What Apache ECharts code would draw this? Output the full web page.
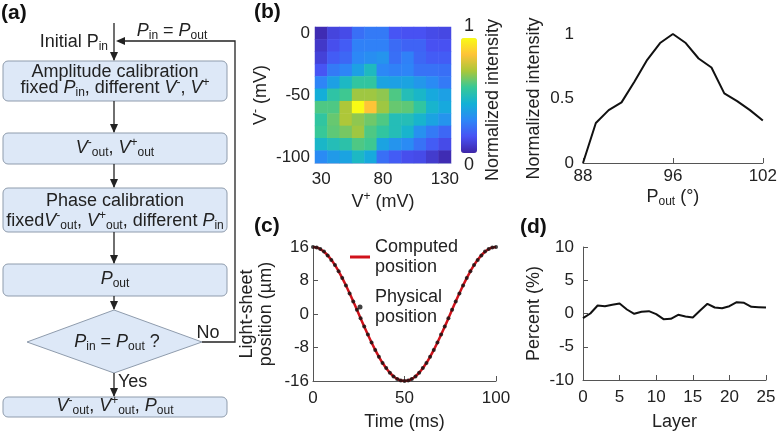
<!DOCTYPE html>
<html><head><meta charset="utf-8">
<script src="https://cdn.jsdelivr.net/npm/echarts@6/dist/echarts.min.js"></script>
<style>html,body{margin:0;padding:0;background:#fff}#c{width:780px;height:434px}</style>
</head><body><div id="c"></div>
<script>
const FONT = '"Liberation Sans", Arial, Helvetica, sans-serif';

// ---- (b) heatmap: columns V+ (mV), rows V- (mV) ----
const vPlus = ['30','40','50','60','70','80','90','100','110','120','130'];
const vMinus = ['0','-10','-20','-30','-40','-50','-60','-70','-80','-90','-100'];
const intensity = [
  [0.02,0.10,0.12,0.22,0.25,0.25,0.15,0.14,0.14,0.12,0.11],
  [0.06,0.13,0.17,0.27,0.27,0.27,0.21,0.19,0.19,0.14,0.14],
  [0.09,0.17,0.20,0.29,0.31,0.33,0.22,0.27,0.20,0.17,0.17],
  [0.15,0.25,0.28,0.37,0.48,0.29,0.27,0.28,0.23,0.23,0.22],
  [0.28,0.37,0.47,0.55,0.55,0.38,0.37,0.38,0.34,0.30,0.25],
  [0.42,0.54,0.58,0.70,0.70,0.68,0.60,0.50,0.46,0.40,0.37],
  [0.60,0.60,0.72,1.00,0.86,0.70,0.63,0.62,0.55,0.45,0.40],
  [0.55,0.63,0.72,0.68,0.64,0.60,0.50,0.50,0.45,0.38,0.33],
  [0.57,0.62,0.65,0.70,0.60,0.55,0.50,0.45,0.32,0.25,0.20],
  [0.46,0.50,0.53,0.60,0.58,0.38,0.33,0.30,0.23,0.17,0.12],
  [0.30,0.35,0.38,0.47,0.40,0.22,0.17,0.13,0.12,0.07,0.02]
];
const colorbarTicks = ['1','0'];

// ---- (b) right: normalized intensity vs P_out ----
const pOutLabels = ['88','','','','','','','96','','','','','','','102'];
const normIntensity = [0,0.31,0.41,0.47,0.63,0.80,0.93,1.0,0.93,0.81,0.74,0.54,0.48,0.41,0.33];

// ---- (c) light-sheet position vs time ----
const timeMs = [0,2,4,6,8,10,12,14,16,18,20,22,24,26,28,30,32,34,36,38,40,42,44,46,48,50,
  52,54,56,58,60,62,64,66,68,70,72,74,76,78,80,82,84,86,88,90,92,94,96,98,100];
const computedPos = [16,15.87,15.5,14.88,14.02,12.94,11.66,10.2,8.57,6.81,4.94,3.0,1.0,-1.0,-3.0,-4.94,-6.81,-8.57,-10.2,-11.66,-12.94,-14.02,-14.88,-15.5,-15.87,-16,
  -15.87,-15.5,-14.88,-14.02,-12.94,-11.66,-10.2,-8.57,-6.81,-4.94,-3.0,-1.0,1.0,3.0,4.94,6.81,8.57,10.2,11.66,12.94,14.02,14.88,15.5,15.87,16];
const physicalPos = [16,15.9,15.5,14.9,14.0,12.9,11.7,10.2,8.6,6.8,4.9,3.0,1.0,-1.0,-3.0,-4.9,-6.8,-8.6,-10.2,-11.7,-12.9,-14.0,-14.9,-15.5,-15.9,-16,
  -15.9,-15.5,-14.9,-14.0,-12.9,-11.7,-10.2,-8.6,-6.8,-4.9,-3.0,-1.0,1.0,3.0,4.9,6.8,8.6,10.2,11.7,12.9,14.0,14.9,15.5,15.9,16];

// ---- (d) percent vs layer ----
const layers = [0,1,2,3,4,5,6,7,8,9,10,11,12,13,14,15,16,17,18,19,20,21,22,23,24,25];
const percent = [-0.7,0.0,1.2,1.1,1.3,1.5,0.6,-0.05,0.25,0.35,-0.1,-0.85,-0.8,-0.2,-0.45,-0.6,0.45,1.45,0.9,0.8,1.1,1.7,1.6,1.0,0.95,0.9];

const parula = ['#3e26a8','#4852f4','#2d87f7','#12b1d6','#37c897','#abc739','#fec338','#f9fb15'];

const TXT = '#222';
const richE = {
  sub: {fontSize: 12, lineHeight: 12, verticalAlign: 'bottom', color: TXT, fontFamily: FONT},
  sup: {fontSize: 12, lineHeight: 12, verticalAlign: 'top', color: TXT, fontFamily: FONT}
};
const axisLbl = {fontSize: 17, color: TXT, fontFamily: FONT};
const nameStyle = {fontSize: 18, color: TXT, fontFamily: FONT, lineHeight: 22, rich: richE};
const axLine = {onZero: false, lineStyle: {color: '#555', width: 1}};
const axTick = {inside: true, length: 5, lineStyle: {color: '#555'}};

// ---- flowchart graphics ----
const richG = {
  i: {fontStyle: 'italic', fontSize: 18, lineHeight: 22, fontFamily: FONT, fill: TXT},
  sub: {fontSize: 12, lineHeight: 12, verticalAlign: 'bottom', fontFamily: FONT, fill: TXT},
  sup: {fontSize: 12, lineHeight: 12, verticalAlign: 'top', fontFamily: FONT, fill: TXT}
};
function txt(x, y, text, align, extra) {
  return Object.assign({type: 'text', x: x, y: y, z: 100,
    style: {text: text, fill: TXT, fontSize: 18, fontFamily: FONT, lineHeight: 22,
      align: align || 'center', textAlign: align || 'center',
      verticalAlign: 'middle', textVerticalAlign: 'middle', rich: richG}}, extra || {});
}
function label(x, y, t) {
  return {type: 'text', x: x, y: y, z: 100,
    style: {text: t, fill: '#111', fontSize: 21, fontWeight: 'bold', fontFamily: FONT,
      align: 'left', textAlign: 'left', verticalAlign: 'middle', textVerticalAlign: 'middle'}};
}
function box(y, h) {
  return {type: 'rect', z: 90, shape: {x: 3, y: y, width: 224, height: h, r: 5},
    style: {fill: '#dde8f7', stroke: '#8f9cad', lineWidth: 1}};
}
function ln(x1, y1, x2, y2) {
  return {type: 'line', z: 95, shape: {x1, y1, x2, y2}, style: {stroke: '#222', lineWidth: 1.3}};
}
function downArrow(x, y) {
  return {type: 'polygon', z: 96, shape: {points: [[x, y], [x - 4, y - 9], [x + 4, y - 9]]}, style: {fill: '#222'}};
}
function leftArrow(x, y) {
  return {type: 'polygon', z: 96, shape: {points: [[x, y], [x + 9, y - 4], [x + 9, y + 4]]}, style: {fill: '#222'}};
}
const cx = 114;
const graphics = [
  ln(cx, 23, cx, 60), downArrow(cx, 61),
  {type: 'polyline', z: 95, shape: {points: [[202, 342], [235, 342], [235, 41], [118, 41]]}, style: {stroke: '#222', lineWidth: 1.3, fill: null}},
  leftArrow(116, 41),
  box(61, 40),
  ln(cx, 101, cx, 132), downArrow(cx, 133),
  box(133, 31),
  ln(cx, 164, cx, 187), downArrow(cx, 188),
  box(188, 44),
  ln(cx, 232, cx, 263), downArrow(cx, 264),
  box(264, 32),
  ln(cx, 296, cx, 309), downArrow(cx, 310),
  {type: 'polygon', z: 90, shape: {points: [[cx, 310], [202, 342], [cx, 373], [27, 342]]}, style: {fill: '#dde8f7', stroke: '#8f9cad', lineWidth: 1}},
  ln(cx, 373, cx, 396), downArrow(cx, 397),
  box(397, 20),
  txt(108, 42, 'Initial P{sub|in}', 'right'),
  txt(172, 31, '{i|P}{sub|in} = {i|P}{sub|out}'),
  txt(115, 72, 'Amplitude calibration'),
  txt(115, 88, 'fixed {i|P}{sub|in}, different {i|V}{sup|-}, {i|V}{sup|+}'),
  txt(115, 148, '{i|V}{sup|-}{sub|out}, {i|V}{sup|+}{sub|out}'),
  txt(115, 201, 'Phase calibration'),
  txt(115, 221, 'fixed{i|V}{sup|-}{sub|out}, {i|V}{sup|+}{sub|out}, different {i|P}{sub|in}'),
  txt(115, 279, '{i|P}{sub|out}'),
  txt(117, 342, '{i|P}{sub|in} = {i|P}{sub|out} ?'),
  txt(208, 333, 'No'),
  txt(118, 382, 'Yes', 'left'),
  txt(115, 406, '{i|V}{sup|-}{sub|out}, {i|V}{sup|+}{sub|out}, {i|P}{sub|out}'),
  label(1, 13, '(a)'), label(254, 12, '(b)'), label(254, 226, '(c)'), label(520, 227, '(d)'),
  {type: 'text', x: 493, y: 100, rotation: Math.PI / 2, z: 100,
    style: {text: 'Normalized intensity', fill: TXT, fontSize: 18, fontFamily: FONT,
      align: 'center', textAlign: 'center', verticalAlign: 'middle', textVerticalAlign: 'middle'}}
];

const heatData = [];
intensity.forEach((row, r) => row.forEach((v, c) => heatData.push([c, r, v])));

const chart = echarts.init(document.getElementById('c'), null, {renderer: 'canvas'});
chart.setOption({
  animation: false,
  backgroundColor: '#fff',
  textStyle: {fontFamily: FONT},
  grid: [
    {left: 315, top: 27, width: 136, height: 136},
    {left: 583, top: 34, width: 183, height: 129},
    {left: 313, top: 247, width: 183, height: 135},
    {left: 583, top: 247, width: 183, height: 135}
  ],
  xAxis: [
    {gridIndex: 0, type: 'category', data: vPlus, axisTick: {show: false},
      axisLine: {onZero: false, lineStyle: {color: '#b4bde0'}},
      axisLabel: Object.assign({interval: 4, margin: 8}, axisLbl),
      name: 'V{sup|+} (mV)', nameLocation: 'middle', nameGap: 28, nameTextStyle: nameStyle},
    {gridIndex: 1, type: 'category', data: pOutLabels, boundaryGap: false,
      axisLine: axLine, axisTick: Object.assign({interval: (i, v) => v !== ''}, axTick),
      axisLabel: Object.assign({interval: 0, margin: 5}, axisLbl),
      name: 'P{sub|out} (°)', nameLocation: 'middle', nameGap: 15, nameTextStyle: nameStyle},
    {gridIndex: 2, type: 'value', min: 0, max: 100, interval: 50, splitLine: {show: false},
      axisLine: axLine, axisTick: axTick, axisLabel: Object.assign({margin: 9}, axisLbl),
      name: 'Time (ms)', nameLocation: 'middle', nameGap: 30, nameTextStyle: nameStyle},
    {gridIndex: 3, type: 'value', min: 0, max: 25, interval: 5, splitLine: {show: false},
      axisLine: axLine, axisTick: axTick, axisLabel: Object.assign({margin: 9}, axisLbl),
      name: 'Layer', nameLocation: 'middle', nameGap: 31, nameTextStyle: nameStyle}
  ],
  yAxis: [
    {gridIndex: 0, type: 'category', data: vMinus, inverse: true, axisTick: {show: false},
      axisLine: {onZero: false, lineStyle: {color: '#b4bde0'}},
      axisLabel: Object.assign({interval: 4, margin: 5}, axisLbl),
      name: 'V{sup|-} (mV)', nameLocation: 'middle', nameRotate: 90, nameGap: 37, nameTextStyle: nameStyle},
    {gridIndex: 1, type: 'value', min: 0, max: 1, interval: 0.5, splitLine: {show: false},
      axisLine: axLine, axisTick: axTick, axisLabel: Object.assign({margin: 9}, axisLbl),
      name: 'Normalized intensity', nameLocation: 'middle', nameRotate: 90, nameGap: 38, nameTextStyle: nameStyle},
    {gridIndex: 2, type: 'value', min: -16, max: 16, interval: 8, splitLine: {show: false},
      axisLine: axLine, axisTick: axTick, axisLabel: Object.assign({margin: 4}, axisLbl),
      name: 'Light-sheet\nposition (µm)', nameLocation: 'middle', nameRotate: 90, nameGap: 37,
      nameTextStyle: Object.assign({}, nameStyle, {lineHeight: 19})},
    {gridIndex: 3, type: 'value', min: -10, max: 10, interval: 5, splitLine: {show: false},
      axisLine: axLine, axisTick: axTick, axisLabel: Object.assign({margin: 9}, axisLbl),
      name: 'Percent (%)', nameLocation: 'middle', nameRotate: 90, nameGap: 38, nameTextStyle: nameStyle}
  ],
  visualMap: {
    type: 'continuous', min: 0, max: 1, seriesIndex: 0, orient: 'vertical', padding: 0,
    left: 461, top: 17, itemWidth: 16, itemHeight: 115, text: colorbarTicks, textGap: 3,
    calculable: false, hoverLink: false, realtime: false,
    textStyle: {fontSize: 18, color: TXT, fontFamily: FONT},
    inRange: {color: parula}
  },
  legend: {
    orient: 'vertical', left: 350, top: 237, padding: 0, itemGap: 10, itemWidth: 20, itemHeight: 5,
    selectedMode: false, symbolKeepAspect: true,
    data: [
      {name: 'Computed position', icon: 'path://M0,0H40V6H0Z', itemStyle: {color: '#d0121b'}},
      {name: 'Physical position', icon: 'circle', itemStyle: {color: '#111'}}
    ],
    formatter: n => n.replace(' ', '\n'),
    textStyle: {fontSize: 18, color: TXT, fontFamily: FONT, lineHeight: 20}
  },
  series: [
    {type: 'heatmap', xAxisIndex: 0, yAxisIndex: 0, data: heatData, itemStyle: {borderWidth: 0}, emphasis: {disabled: true}},
    {type: 'line', xAxisIndex: 1, yAxisIndex: 1, data: normIntensity, symbol: 'none',
      lineStyle: {color: '#111', width: 2}, itemStyle: {color: '#111'}},
    {name: 'Computed position', type: 'line', xAxisIndex: 2, yAxisIndex: 2, smooth: true, symbol: 'none',
      data: timeMs.map((t, i) => [t, computedPos[i]]), lineStyle: {color: '#d0121b', width: 2.5}, itemStyle: {color: '#d0121b'}},
    {name: 'Physical position', type: 'scatter', xAxisIndex: 2, yAxisIndex: 2, symbolSize: 4,
      data: timeMs.map((t, i) => [t, physicalPos[i]]), itemStyle: {color: '#111'}, z: 5},
    {type: 'line', xAxisIndex: 3, yAxisIndex: 3, data: layers.map((l, i) => [l, percent[i]]), symbol: 'none',
      lineStyle: {color: '#111', width: 2}, itemStyle: {color: '#111'}}
  ],
  graphic: graphics
});
</script></body></html>
